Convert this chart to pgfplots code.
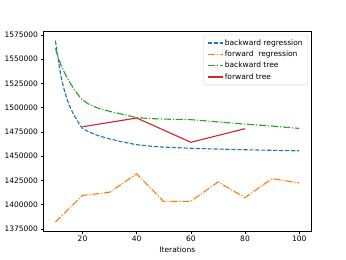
\documentclass[border=0pt]{standalone}
\usepackage{pgfplots}
\pgfplotsset{compat=1.18}
\usepackage{fontspec}
\setmainfont{DejaVu Sans}
\definecolor{tabblue}{HTML}{1F77B4}
\definecolor{taborange}{HTML}{FF7F0E}
\definecolor{tabgreen}{HTML}{2CA02C}
\definecolor{tabred}{HTML}{D62728}
\begin{document}
\fontsize{10bp}{12bp}\selectfont
\begin{tikzpicture}
\begin{axis}[
  scale only axis=true,
  width=357.1bp, height=266.1bp,
  xmin=5.5, xmax=104.5,
  ymin=1372900, ymax=1578800,
  xtick={20,40,60,80,100},
  ytick={1375000,1400000,1425000,1450000,1475000,1500000,1525000,1550000,1575000},
  scaled y ticks=false,
  yticklabel style={/pgf/number format/.cd, fixed, 1000 sep={}},
  /pgf/number format/assume math mode=true,
  tick align=outside,
  xtick pos=lower, ytick pos=left,
  major tick length=3.5bp,
  every tick/.style={black, line width=0.8bp},
  axis line style={line width=0.8bp},
  ticklabel style={font=\fontsize{10bp}{12bp}\selectfont},
  xlabel={Iterations},
  xlabel style={font=\fontsize{10bp}{12bp}\selectfont},
  legend style={at={(1,1)}, anchor=north east, xshift=-5bp, yshift=-5bp,
    draw=black!20, rounded corners=2pt, fill=white, fill opacity=0.8, text opacity=1,
    font=\fontsize{10bp}{12bp}\selectfont, row sep=2bp, inner xsep=4.5bp, inner ysep=4bp},
  legend cell align=left,
  legend image code/.code={\draw[#1] (0bp,0bp) -- (20bp,0bp);},
]
\addplot[tabblue, line width=1.5bp, dash pattern=on 5.55bp off 2.4bp] coordinates {
(10,1569000) (11,1550000) (12,1533000) (13,1521000) (14,1511000) (15,1503000)
(16,1497000) (17,1491500) (18,1487000) (19,1482000) (20,1478500) (22,1475500)
(24,1473000) (26,1471000) (28,1469300) (30,1467800) (35,1464500) (40,1461800)
(45,1460300) (50,1459300) (60,1458100) (70,1457300) (80,1456600) (90,1456000) (100,1455500)};
\addlegendentry{backward regression}
\addplot[taborange, line width=1.5bp, dash pattern=on 9.6bp off 2.4bp on 1.5bp off 2.4bp] coordinates {
(10,1382200) (20,1409500) (30,1412800) (40,1431700) (50,1403200) (60,1403400)
(70,1423400) (80,1407300) (90,1426800) (100,1422400)};
\addlegendentry{forward\ \ regression}
\addplot[tabgreen, line width=1.5bp, dash pattern=on 9.6bp off 2.4bp on 1.5bp off 2.4bp] coordinates {
(10,1561000) (11,1552000) (12,1544000) (13,1538000) (14,1532500) (15,1527500)
(16,1523000) (17,1518500) (18,1514500) (19,1511000) (20,1508000) (22,1504000)
(24,1501500) (26,1499200) (28,1497600) (30,1496200) (35,1493000) (40,1489700)
(45,1488700) (50,1488200) (60,1487600) (70,1485300) (80,1483000) (90,1481000) (100,1478600)};
\addlegendentry{backward tree}
\addplot[tabred, line width=1.5bp] coordinates {
(20,1480300) (40,1489300) (60,1464300) (80,1478300)};
\addlegendentry{forward tree}
\end{axis}
\path (current axis.south west) ++(-57.6bp,-38bp) coordinate (bbA);
\path (current axis.north east) ++(46.1bp,41.5bp) coordinate (bbB);
\path (bbA) rectangle (bbB);
\end{tikzpicture}
\end{document}
